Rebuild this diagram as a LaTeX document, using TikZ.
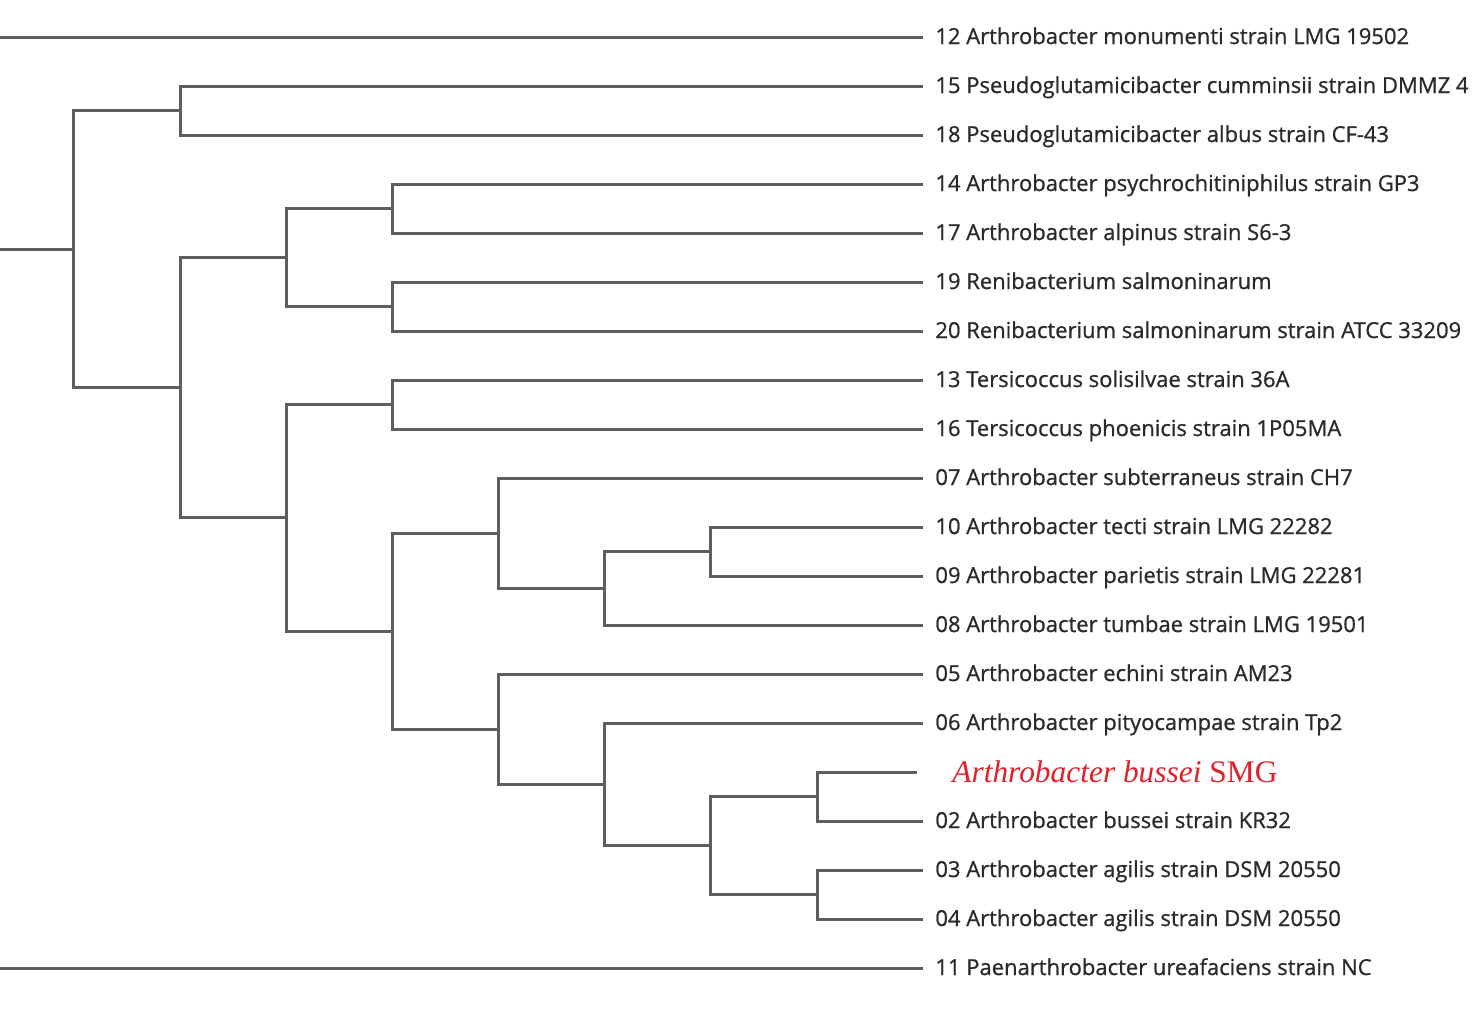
\documentclass[tikz,border=0pt]{standalone}
\usepackage{fontspec}
\setmainfont{Open Sans}
\newfontfamily\labelfont[FakeBold=0.9]{Open Sans}
\newfontfamily\redfont{Liberation Serif}
\definecolor{linegray}{HTML}{5E5E5E}
\definecolor{textgray}{HTML}{2A2A2A}
\definecolor{smgred}{HTML}{E0202A}
\begin{document}
\begin{tikzpicture}[x=0.5pt,y=-0.5pt,
  branch/.style={draw=linegray,line width=1.5pt,line cap=rect},
  leaflabel/.style={anchor=base west,inner sep=0pt,text=textgray,font=\labelfont\fontsize{11}{12}\selectfont},
  redlabel/.style={anchor=base west,inner sep=0pt,text=smgred,font=\redfont\fontsize{15.7}{17}\selectfont}]
\useasboundingbox (0,0) rectangle (1473,1013);
\clip (0,0) rectangle (1473,1013);
% leaf tips
\foreach \n/\y in {l12/37,l15/86,l18/135,l14/184,l17/233,l19/282,l20/331,l13/380,l16/429,l07/478,l10/527,l09/576,l08/625,l05/674,l06/723,l02/821,l03/870,l04/919,l11/968}
  \coordinate (\n) at (921,\y);
\coordinate (lSMG) at (915,772);
% labels
\node[leaflabel] (t12) at (935,44) {12 Arthrobacter monumenti strain LMG 19502};
\node[leaflabel] (t15) at (935,93) {15 Pseudoglutamicibacter cumminsii strain DMMZ 4};
\node[leaflabel] (t18) at (935,142) {18 Pseudoglutamicibacter albus strain CF-43};
\node[leaflabel] (t14) at (935,191) {14 Arthrobacter psychrochitiniphilus strain GP3};
\node[leaflabel] (t17) at (935,240) {17 Arthrobacter alpinus strain S6-3};
\node[leaflabel] (t19) at (935,289) {19 Renibacterium salmoninarum};
\node[leaflabel] (t20) at (935,338) {20 Renibacterium salmoninarum strain ATCC 33209};
\node[leaflabel] (t13) at (935,387) {13 Tersicoccus solisilvae strain 36A};
\node[leaflabel] (t16) at (935,436) {16 Tersicoccus phoenicis strain 1P05MA};
\node[leaflabel] (t07) at (935,485) {07 Arthrobacter subterraneus strain CH7};
\node[leaflabel] (t10) at (935,534) {10 Arthrobacter tecti strain LMG 22282};
\node[leaflabel] (t09) at (935,583) {09 Arthrobacter parietis strain LMG 22281};
\node[leaflabel] (t08) at (935,632) {08 Arthrobacter tumbae strain LMG 19501};
\node[leaflabel] (t05) at (935,681) {05 Arthrobacter echini strain AM23};
\node[leaflabel] (t06) at (935,730) {06 Arthrobacter pityocampae strain Tp2};
\node[redlabel] (tSMG) at (952,782) {\textit{Arthrobacter bussei} SMG};
\node[leaflabel] (t02) at (935,828) {02 Arthrobacter bussei strain KR32};
\node[leaflabel] (t03) at (935,877) {03 Arthrobacter agilis strain DSM 20550};
\node[leaflabel] (t04) at (935,926) {04 Arthrobacter agilis strain DSM 20550};
\node[leaflabel] (t11) at (935,975) {11 Paenarthrobacter ureafaciens strain NC};
% internal nodes
\coordinate (nA) at (180,110.5);
\coordinate (nB) at (392,208.5);
\coordinate (nC) at (392,306.5);
\coordinate (nD) at (286,257.5);
\coordinate (nE) at (392,404.5);
\coordinate (nF) at (710,551.5);
\coordinate (nG) at (604,588);
\coordinate (nH) at (498,533);
\coordinate (nI) at (817,796.5);
\coordinate (nJ) at (817,894.5);
\coordinate (nK) at (710,845.5);
\coordinate (nL) at (604,784);
\coordinate (nM) at (498,729);
\coordinate (nN) at (392,631);
\coordinate (nO) at (286,517.5);
\coordinate (nP) at (180,387.5);
\coordinate (nQ) at (73,249);
\coordinate (rootQ) at (-5,249);
\coordinate (root12) at (-5,37);
\coordinate (root11) at (-5,968);
% branches
\draw[branch] (root12) -- (l12);
\draw[branch] (root11) -- (l11);
\draw[branch] (rootQ) -- (nQ);
\draw[branch] (nQ) |- (nA); \draw[branch] (nQ) |- (nP);
\draw[branch] (nA) |- (l15); \draw[branch] (nA) |- (l18);
\draw[branch] (nP) |- (nD); \draw[branch] (nP) |- (nO);
\draw[branch] (nD) |- (nB); \draw[branch] (nD) |- (nC);
\draw[branch] (nB) |- (l14); \draw[branch] (nB) |- (l17);
\draw[branch] (nC) |- (l19); \draw[branch] (nC) |- (l20);
\draw[branch] (nO) |- (nE); \draw[branch] (nO) |- (nN);
\draw[branch] (nE) |- (l13); \draw[branch] (nE) |- (l16);
\draw[branch] (nN) |- (nH); \draw[branch] (nN) |- (nM);
\draw[branch] (nH) |- (l07); \draw[branch] (nH) |- (nG);
\draw[branch] (nG) |- (nF); \draw[branch] (nG) |- (l08);
\draw[branch] (nF) |- (l10); \draw[branch] (nF) |- (l09);
\draw[branch] (nM) |- (l05); \draw[branch] (nM) |- (nL);
\draw[branch] (nL) |- (l06); \draw[branch] (nL) |- (nK);
\draw[branch] (nK) |- (nI); \draw[branch] (nK) |- (nJ);
\draw[branch] (nI) |- (lSMG); \draw[branch] (nI) |- (l02);
\draw[branch] (nJ) |- (l03); \draw[branch] (nJ) |- (l04);
\end{tikzpicture}
\end{document}
